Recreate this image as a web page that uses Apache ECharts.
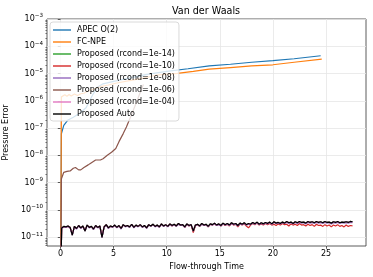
<!DOCTYPE html>
<html><head><meta charset="utf-8">
<script src="https://cdn.jsdelivr.net/npm/echarts@6/dist/echarts.min.js"></script>
<style>html,body{margin:0;padding:0;background:#fff}#c{width:373px;height:277px}</style>
</head><body><div id="c"></div>
<script>
// ---- data (errors; 1e-13 marks a value below the plotted range) ----
const apecT   = [0, 0.08, 0.3, 0.7, 1.2, 1.8, 2.4, 3.0, 3.5, 4, 5, 6, 8, 10, 12, 14, 16, 18, 20, 22, 24.5];
const apecErr = [1e-13, 6.3e-8, 1.26e-7, 2.0e-7, 2.5e-7, 3.5e-7, 5.6e-7, 1.6e-6, 3.2e-6, 4.2e-6, 5.2e-6, 6.3e-6, 9.1e-6, 1.2e-5, 1.5e-5, 1.9e-5, 2.2e-5, 2.6e-5, 3.0e-5, 3.5e-5, 4.5e-5];

const fcT   = [0, 0.08, 0.2, 0.4, 0.6, 0.8, 1.0, 1.3, 1.6, 1.9, 2.2, 2.5, 3, 3.75, 4.5, 5.3, 6.5, 7.8, 9, 11, 12.5, 14, 16, 18, 20, 22, 24.6];
const fcErr = [1e-13, 1.4e-6, 1.4e-6, 1.66e-6, 1.48e-6, 1.7e-6, 1.51e-6, 1.78e-6, 1.58e-6, 1.82e-6, 1.9e-6, 2.2e-6, 2.6e-6, 3.3e-6, 3.8e-6, 4.5e-6, 5.5e-6, 6.8e-6, 8.7e-6, 1.02e-5, 1.2e-5, 1.45e-5, 1.66e-5, 1.9e-5, 2.1e-5, 2.6e-5, 3.4e-5];

const r06T   = [0, 0.08, 0.3, 0.6, 0.9, 1.2, 1.4, 1.7, 1.9, 2.2, 2.6, 2.8, 3.3, 3.75, 4.0, 4.4, 4.8, 5.2, 5.5, 5.9, 6.2, 6.6, 7.0, 7.4, 7.8];
const r06Err = [1e-13, 1.4e-9, 2.4e-9, 2.6e-9, 2.7e-9, 3.4e-9, 3.6e-9, 2.95e-9, 2.95e-9, 3.6e-9, 4.5e-9, 5.1e-9, 6.8e-9, 6.8e-9, 7.6e-9, 1.02e-8, 1.3e-8, 1.8e-8, 3.2e-8, 6.3e-8, 1.1e-7, 2.6e-7, 6.3e-7, 1.6e-6, 4.0e-6];

// proposed runs: first sample at t=0 (below range), then samples every 0.2 from t=0.1, in units of 1e-11
const propStart = 0.1, propStep = 0.2, propUnit = 1e-11, propFirst = 1e-13;
const autoVals = [2.2,2.5,2.4,2.6,2.3,1.2,2.5,2.1,2.7,2.2,2.6,1.7,2.8,2.3,2.5,2.0,2.7,2.3,2.6,1.0,2.4,2.9,2.2,2.6,2.4,
  2.8,2.3,2.7,2.1,2.9,2.5,2.7,2.4,3.0,2.3,2.8,2.5,2.9,2.4,2.7,2.2,2.9,2.6,3.0,2.5,2.8,2.4,3.1,2.6,2.9,
  2.5,3.1,2.7,3.0,2.6,3.2,2.8,2.9,2.4,3.1,2.7,2.9,1.7,2.8,3.0,2.6,3.2,2.8,3.0,2.5,3.1,2.9,3.3,2.8,3.1,
  2.7,3.3,2.9,3.2,2.8,3.4,3.0,3.2,2.7,3.3,3.0,3.4,2.9,3.2,3.0,3.5,3.1,3.6,3.0,3.4,3.1,3.5,3.2,3.6,3.1,
  3.7,3.3,3.5,3.2,3.6,3.3,3.8,3.4,3.6,3.2,3.7,3.4,3.8,3.5,3.6,3.3,3.8,3.5,3.7,3.4,3.8,3.5,3.7,3.4,3.8,
  3.5,3.6,3.3,3.7,3.5,3.8,3.4,3.6,3.5,3.7,3.5,3.8,3.7];
const r14Vals = autoVals;
const r04Vals = autoVals;
const r10Vals = [2.2,2.4,2.4,2.5,2.3,1.3,2.4,2.1,2.6,2.2,2.5,1.8,2.7,2.3,2.4,2.0,2.6,2.3,2.5,1.1,2.4,2.8,2.2,2.5,2.4,
  2.7,2.3,2.6,2.1,2.8,2.5,2.6,2.4,2.9,2.3,2.7,2.5,2.8,2.4,2.6,2.2,2.8,2.6,2.9,2.5,2.7,2.4,3.0,2.6,2.8,
  2.5,3.0,2.6,2.9,2.6,3.1,2.7,2.8,2.3,3.0,2.6,2.8,1.5,2.7,2.9,2.5,3.1,2.7,2.9,2.4,3.0,2.8,3.1,2.7,3.0,
  2.6,3.1,2.7,3.0,2.6,3.2,2.8,3.0,2.4,3.1,2.8,3.1,2.6,2.2,2.8,3.2,2.9,3.3,2.8,3.1,2.8,3.2,2.9,3.2,2.8,
  3.0,2.7,3.1,2.8,3.2,2.9,3.0,2.6,3.1,2.8,3.0,2.7,3.2,2.8,2.9,2.6,3.0,2.7,2.9,2.5,3.0,2.7,2.8,2.5,2.9,
  2.6,2.8,2.4,2.8,2.6,2.9,2.5,2.7,2.4,2.8,2.5,2.7,2.6];
const r08Vals = [2.1,2.4,2.3,2.5,2.2,1.2,2.4,2.0,2.6,2.1,2.5,1.7,2.7,2.2,2.4,1.9,2.6,2.2,2.5,1.0,2.3,2.8,2.1,2.5,2.3,
  2.7,2.2,2.6,2.0,2.8,2.4,2.6,2.3,2.9,2.2,2.7,2.4,2.8,2.3,2.6,2.1,2.8,2.5,2.9,2.4,2.7,2.3,3.0,2.5,2.8,
  2.4,3.0,2.6,2.9,2.5,3.0,2.7,2.8,2.3,3.0,2.6,2.8,1.7,2.7,2.9,2.5,3.0,2.7,2.9,2.4,3.0,2.8,3.1,2.7,2.9,
  2.6,3.1,2.8,3.0,2.7,3.2,2.9,3.0,2.6,3.1,2.9,3.2,2.8,3.0,2.9,3.3,3.0,3.4,2.9,3.2,3.0,3.3,3.1,3.4,3.0,
  3.5,3.2,3.3,3.1,3.4,3.2,3.5,3.2,3.4,3.1,3.5,3.2,3.5,3.3,3.4,3.1,3.5,3.3,3.4,3.2,3.5,3.3,3.4,3.2,3.5,
  3.3,3.4,3.1,3.4,3.3,3.5,3.2,3.4,3.3,3.4,3.3,3.5,3.4];

const seriesNames = ['APEC O(2)', 'FC-NPE', 'Proposed (rcond=1e-14)', 'Proposed (rcond=1e-10)', 'Proposed (rcond=1e-08)', 'Proposed (rcond=1e-06)', 'Proposed (rcond=1e-04)', 'Proposed Auto'];
const seriesColors = ['#1f77b4', '#ff7f0e', '#2ca02c', '#d62728', '#9467bd', '#8c564b', '#e377c2', '#000000'];
const xTicks = [0, 5, 10, 15, 20, 25];
const yDecades = [-11, -10, -9, -8, -7, -6, -5, -4, -3];
const xMin = -1.28, xMax = 28.77, yMinExp = -11.32, yMaxExp = -3;

// ---- build ----
const pairs = (ts, vs) => ts.map((t, i) => [t, Math.log10(vs[i])]);
const propPairs = (vals) => [[0, Math.log10(propFirst)]].concat(vals.map((v, i) => [+(propStart + i * propStep).toFixed(2), Math.log10(v * propUnit)]));
const dataSets = [
  pairs(apecT, apecErr), pairs(fcT, fcErr),
  propPairs(r14Vals), propPairs(r10Vals), propPairs(r08Vals),
  pairs(r06T, r06Err), propPairs(r04Vals), propPairs(autoVals)
];
const minorTicks = [];
for (let n = -12; n <= -4; n++) for (let k = 2; k <= 9; k++) {
  const v = n + Math.log10(k);
  if (v > yMinExp && v < yMaxExp) minorTicks.push(v);
}
const FONT = 'DejaVu Sans';
const chart = echarts.init(document.getElementById('c'), null, {renderer: 'canvas'});
chart.setOption({
  animation: false,
  backgroundColor: '#fff',
  title: {text: 'Van der Waals', left: 206, top: 6, padding: 0, textAlign: 'center',
    textStyle: {fontFamily: FONT, fontSize: 9.6, fontWeight: 'normal', color: '#000'}},
  grid: {left: 47, right: 7, top: 19, bottom: 31, show: true, borderColor: '#333', borderWidth: 0.8,
    backgroundColor: 'transparent', containLabel: false, outerBoundsMode: 'none'},
  legend: {
    left: 50, top: 22, orient: 'vertical', padding: [3, 4, 2, 3],
    itemWidth: 18, itemHeight: 1.4, itemGap: 2, icon: 'rect',
    backgroundColor: 'rgba(255,255,255,0.8)', borderColor: '#d0d0d0', borderWidth: 0.8, borderRadius: 3,
    textStyle: {fontFamily: FONT, fontSize: 8, color: '#000', lineHeight: 10, padding: [0, 0, 0, 1]},
    data: seriesNames
  },
  xAxis: {
    type: 'value', min: xMin, max: xMax,
    name: 'Flow-through Time', nameLocation: 'middle', nameGap: 16,
    nameTextStyle: {fontFamily: FONT, fontSize: 8, color: '#000'},
    axisLine: {show: false},
    axisTick: {show: true, customValues: xTicks, length: 2.8, lineStyle: {color: '#333', width: 0.8}},
    axisLabel: {customValues: xTicks, fontFamily: FONT, fontSize: 8, color: '#000', margin: 4},
    splitLine: {show: true, lineStyle: {color: '#e6e6e6', width: 0.8}}
  },
  yAxis: [{
    type: 'value', min: yMinExp, max: yMaxExp,
    name: 'Pressure Error', nameLocation: 'middle', nameGap: 30,
    nameTextStyle: {fontFamily: FONT, fontSize: 8, color: '#000'},
    axisLine: {show: false},
    axisTick: {show: true, customValues: yDecades, length: 2.8, lineStyle: {color: '#333', width: 0.8}},
    axisLabel: {customValues: yDecades, margin: 4,
      formatter: v => '{b|10}{s|\u2212' + Math.abs(Math.round(v)) + '}',
      rich: {
        b: {fontFamily: FONT, fontSize: 8, color: '#000', lineHeight: 12},
        s: {fontFamily: FONT, fontSize: 5.6, color: '#000', verticalAlign: 'top', lineHeight: 7}
      }},
    splitLine: {show: true, lineStyle: {color: '#e6e6e6', width: 0.8}}
  }, {
    type: 'value', min: yMinExp, max: yMaxExp, position: 'left',
    axisLine: {show: false},
    axisTick: {show: true, customValues: minorTicks, length: 1.6, lineStyle: {color: '#333', width: 0.6}},
    axisLabel: {show: false}, splitLine: {show: false}
  }],
  series: seriesNames.map((name, i) => ({
    name, type: 'line', yAxisIndex: 0, data: dataSets[i],
    showSymbol: false, symbol: 'none', clip: true,
    lineStyle: {width: 1.2, color: seriesColors[i]},
    itemStyle: {color: seriesColors[i]},
    emphasis: {disabled: true}
  }))
});
</script></body></html>
